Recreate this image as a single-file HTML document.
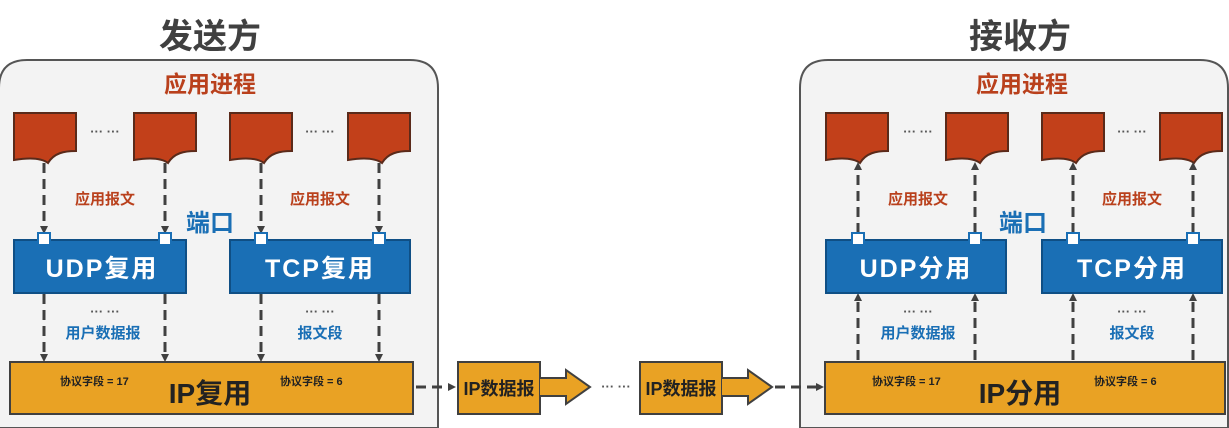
<!DOCTYPE html>
<html><head><meta charset="utf-8"><style>
html,body{margin:0;padding:0;background:#fff;width:1229px;height:428px;overflow:hidden}
svg{display:block}
svg text{font-family:"Liberation Sans","Noto Sans CJK SC",sans-serif;font-weight:bold}
</style></head><body>
<svg width="1229" height="428" viewBox="0 0 1229 428" xmlns="http://www.w3.org/2000/svg">
<defs>
<marker id="ah" markerWidth="8" markerHeight="8" refX="4" refY="4" orient="auto" markerUnits="userSpaceOnUse">
<path d="M0,0 L8,4 L0,8 Z" fill="#404040"/></marker>
<g id="doc"><path d="M0,0 H62 V38 C50,38 40,40 34,50 C26,44 12,45 0,47 Z" fill="#c2401a" stroke="#5a2a1a" stroke-width="2"/></g>
<g id="port"><rect x="-6" y="-6" width="12" height="12" fill="#fff" stroke="#1a6fb5" stroke-width="2"/></g>
</defs>
<rect width="1229" height="428" fill="#fff"/>
<!-- panels -->
<path d="M-1,428 V88 Q-1,60 27,60 H410 Q438,60 438,88 V428 Z" fill="#f3f3f3" stroke="#555" stroke-width="2"/>
<path d="M800,428 V88 Q800,60 828,60 H1200 Q1228,60 1228,88 V428 Z" fill="#f3f3f3" stroke="#555" stroke-width="2"/>
<text x="210" y="48" font-size="34" fill="#404040" text-anchor="middle">发送方</text>
<text x="1020" y="48" font-size="34" fill="#404040" text-anchor="middle">接收方</text>
<text x="210" y="92" font-size="23" fill="#b9401c" text-anchor="middle">应用进程</text>
<text x="1022" y="92" font-size="23" fill="#b9401c" text-anchor="middle">应用进程</text>

<use href="#doc" x="14" y="113"/><use href="#doc" x="134" y="113"/><use href="#doc" x="230" y="113"/><use href="#doc" x="348" y="113"/>
<use href="#doc" x="826" y="113"/><use href="#doc" x="946" y="113"/><use href="#doc" x="1042" y="113"/><use href="#doc" x="1160" y="113"/>
<g font-size="13" fill="#555" text-anchor="middle">
<text x="105" y="136">··· ···</text><text x="320" y="136">··· ···</text>
<text x="918" y="136">··· ···</text><text x="1132" y="136">··· ···</text>
<text x="105" y="316">··· ···</text><text x="320" y="316">··· ···</text>
<text x="918" y="316">··· ···</text><text x="1132" y="316">··· ···</text>
</g>
<g font-size="15" fill="#b9401c" text-anchor="middle">
<text x="105" y="204">应用报文</text><text x="320" y="204">应用报文</text>
<text x="918" y="204">应用报文</text><text x="1132" y="204">应用报文</text>
</g>
<text x="210" y="231" font-size="24" fill="#1a6fb5" text-anchor="middle">端口</text>
<text x="1023" y="231" font-size="24" fill="#1a6fb5" text-anchor="middle">端口</text>
<g font-size="15" fill="#1a6fb5" text-anchor="middle">
<text x="103" y="338">用户数据报</text><text x="320" y="338">报文段</text>
<text x="918" y="338">用户数据报</text><text x="1132" y="338">报文段</text>
</g>

<g stroke="#404040" stroke-width="3" stroke-dasharray="10,6" marker-end="url(#ah)">
<line x1="44" y1="163" x2="44" y2="230"/><line x1="165" y1="163" x2="165" y2="230"/>
<line x1="261" y1="163" x2="261" y2="230"/><line x1="379" y1="163" x2="379" y2="230"/>
<line x1="44" y1="294" x2="44" y2="358"/><line x1="165" y1="294" x2="165" y2="358"/>
<line x1="261" y1="294" x2="261" y2="358"/><line x1="379" y1="294" x2="379" y2="358"/>
<line x1="858" y1="233" x2="858" y2="166"/><line x1="975" y1="233" x2="975" y2="166"/>
<line x1="1073" y1="233" x2="1073" y2="166"/><line x1="1193" y1="233" x2="1193" y2="166"/>
<line x1="858" y1="360" x2="858" y2="297"/><line x1="975" y1="360" x2="975" y2="297"/>
<line x1="1073" y1="360" x2="1073" y2="297"/><line x1="1193" y1="360" x2="1193" y2="297"/>
</g>

<rect x="14" y="240" width="172" height="53" fill="#1a6fb5" stroke="#0f4f85" stroke-width="2"/>
<rect x="230" y="240" width="180" height="53" fill="#1a6fb5" stroke="#0f4f85" stroke-width="2"/>
<rect x="826" y="240" width="180" height="53" fill="#1a6fb5" stroke="#0f4f85" stroke-width="2"/>
<rect x="1042" y="240" width="180" height="53" fill="#1a6fb5" stroke="#0f4f85" stroke-width="2"/>
<g font-size="25" fill="#fff" text-anchor="middle" letter-spacing="2">
<text x="102" y="277">UDP复用</text><text x="320" y="277">TCP复用</text>
<text x="916" y="277">UDP分用</text><text x="1132" y="277">TCP分用</text>
</g>
<use href="#port" x="44" y="239"/><use href="#port" x="165" y="239"/><use href="#port" x="261" y="239"/><use href="#port" x="379" y="239"/>
<use href="#port" x="858" y="239"/><use href="#port" x="975" y="239"/><use href="#port" x="1073" y="239"/><use href="#port" x="1193" y="239"/>

<rect x="10" y="362" width="403" height="52" fill="#e9a224" stroke="#404040" stroke-width="2"/>
<rect x="825" y="362" width="400" height="52" fill="#e9a224" stroke="#404040" stroke-width="2"/>
<g font-size="11" fill="#222">
<text x="60" y="385">协议字段 = 17</text><text x="280" y="385">协议字段 = 6</text>
<text x="872" y="385">协议字段 = 17</text><text x="1094" y="385">协议字段 = 6</text>
</g>
<text x="210" y="403" font-size="28" fill="#222" text-anchor="middle">IP复用</text>
<text x="1020" y="403" font-size="28" fill="#222" text-anchor="middle">IP分用</text>

<g stroke="#404040" stroke-width="3" stroke-dasharray="10,6" marker-end="url(#ah)">
<line x1="416" y1="387" x2="452" y2="387"/>
<line x1="775" y1="387" x2="820" y2="387"/>
</g>
<rect x="458" y="362" width="82" height="52" fill="#e9a224" stroke="#404040" stroke-width="2"/>
<path d="M540,378 H566 V370 L590,387 L566,404 V396 H540" fill="#e9a224" stroke="#404040" stroke-width="2"/>
<rect x="640" y="362" width="82" height="52" fill="#e9a224" stroke="#404040" stroke-width="2"/>
<path d="M722,378 H748 V370 L772,387 L748,404 V396 H722" fill="#e9a224" stroke="#404040" stroke-width="2"/>
<text x="499" y="395" font-size="18" fill="#222" text-anchor="middle">IP数据报</text>
<text x="681" y="395" font-size="18" fill="#222" text-anchor="middle">IP数据报</text>
<text x="616" y="391" font-size="13" fill="#555" text-anchor="middle">··· ···</text>
</svg>
</body></html>
